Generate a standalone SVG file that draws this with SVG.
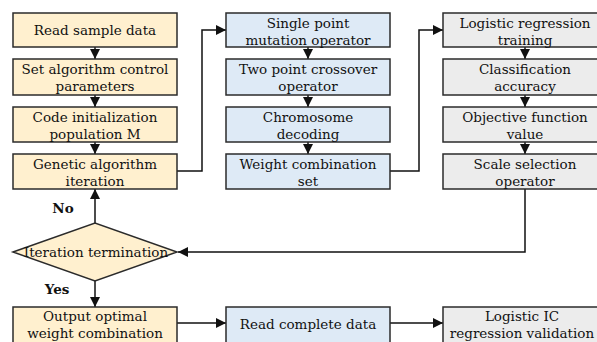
<svg xmlns="http://www.w3.org/2000/svg" width="597" height="342" viewBox="0 0 597 342">
<style>
.box{stroke:#2b2b2b;stroke-width:1.5}
.o{fill:#fff0cf}
.b{fill:#deeaf6}
.g{fill:#ececec}
.t text{font-family:"DejaVu Serif",serif;font-size:13.5px;fill:#111;text-anchor:middle}
.t .lbl{font-weight:bold}
.c{fill:none;stroke:#111;stroke-width:1.5}
</style>
<defs>
<marker id="ah" viewBox="0 0 10 10" refX="10" refY="5" markerWidth="10" markerHeight="10" markerUnits="userSpaceOnUse" orient="auto">
<path d="M0,0 L10,5 L0,10 z" fill="#111"/>
</marker>
</defs>
<rect width="597" height="342" fill="#fff"/>
<g id="connectors">
<path class="c" d="M95,47 V59" marker-end="url(#ah)"/>
<path class="c" d="M95,95 V107" marker-end="url(#ah)"/>
<path class="c" d="M95,142 V154" marker-end="url(#ah)"/>
<path class="c" d="M308,47 V59" marker-end="url(#ah)"/>
<path class="c" d="M308,95 V107" marker-end="url(#ah)"/>
<path class="c" d="M308,142 V154" marker-end="url(#ah)"/>
<path class="c" d="M525,47 V59" marker-end="url(#ah)"/>
<path class="c" d="M525,95 V107" marker-end="url(#ah)"/>
<path class="c" d="M525,142 V154" marker-end="url(#ah)"/>
<path class="c" d="M177,171 H202 V30 H226" marker-end="url(#ah)"/>
<path class="c" d="M390,171 H419 V30 H443" marker-end="url(#ah)"/>
<path class="c" d="M525,189 V252 H178" marker-end="url(#ah)"/>
<path class="c" d="M95,223 V189" marker-end="url(#ah)"/>
<path class="c" d="M95,281 V307" marker-end="url(#ah)"/>
<path class="c" d="M177,323 H226" marker-end="url(#ah)"/>
<path class="c" d="M390,323 H443" marker-end="url(#ah)"/>
</g>
<g class="t">
<g id="n1"><rect class="box o" x="13" y="13" width="164" height="34"/><text x="95" y="35">Read sample data</text></g>
<g id="n2"><rect class="box o" x="13" y="59" width="164" height="36"/><text x="95" y="74">Set algorithm control</text><text x="95" y="91">parameters</text></g>
<g id="n3"><rect class="box o" x="13" y="107" width="164" height="35"/><text x="95" y="122">Code initialization</text><text x="95" y="139">population M</text></g>
<g id="n4"><rect class="box o" x="13" y="154" width="164" height="35"/><text x="95" y="169">Genetic algorithm</text><text x="95" y="186">iteration</text></g>
<g id="m1"><rect class="box b" x="226" y="13" width="164" height="34"/><text x="308" y="28">Single point</text><text x="308" y="45">mutation operator</text></g>
<g id="m2"><rect class="box b" x="226" y="59" width="164" height="36"/><text x="308" y="74">Two point crossover</text><text x="308" y="91">operator</text></g>
<g id="m3"><rect class="box b" x="226" y="107" width="164" height="35"/><text x="308" y="122">Chromosome</text><text x="308" y="139">decoding</text></g>
<g id="m4"><rect class="box b" x="226" y="154" width="164" height="35"/><text x="308" y="169">Weight combination</text><text x="308" y="186">set</text></g>
<g id="r1"><rect class="box g" x="443" y="13" width="164" height="34"/><text x="525" y="28">Logistic regression</text><text x="525" y="45">training</text></g>
<g id="r2"><rect class="box g" x="443" y="59" width="164" height="36"/><text x="525" y="74">Classification</text><text x="525" y="91">accuracy</text></g>
<g id="r3"><rect class="box g" x="443" y="107" width="164" height="35"/><text x="525" y="122">Objective function</text><text x="525" y="139">value</text></g>
<g id="r4"><rect class="box g" x="443" y="154" width="164" height="35"/><text x="525" y="169">Scale selection</text><text x="525" y="186">operator</text></g>
<g id="d1"><path class="box o" d="M13,252 L95,223 L177,252 L95,281 Z"/><text x="96" y="257">Iteration termination</text></g>
<g id="b1"><rect class="box o" x="13" y="307" width="164" height="40"/><text x="95" y="321">Output optimal</text><text x="95" y="338">weight combination</text></g>
<g id="b2"><rect class="box b" x="226" y="307" width="164" height="40"/><text x="308" y="329">Read complete data</text></g>
<g id="b3"><rect class="box g" x="443" y="307" width="164" height="40"/><text x="522" y="321">Logistic IC</text><text x="522" y="338">regression validation</text></g>
<text class="lbl" x="63" y="213">No</text>
<text class="lbl" x="57" y="294">Yes</text>
</g>
</svg>
